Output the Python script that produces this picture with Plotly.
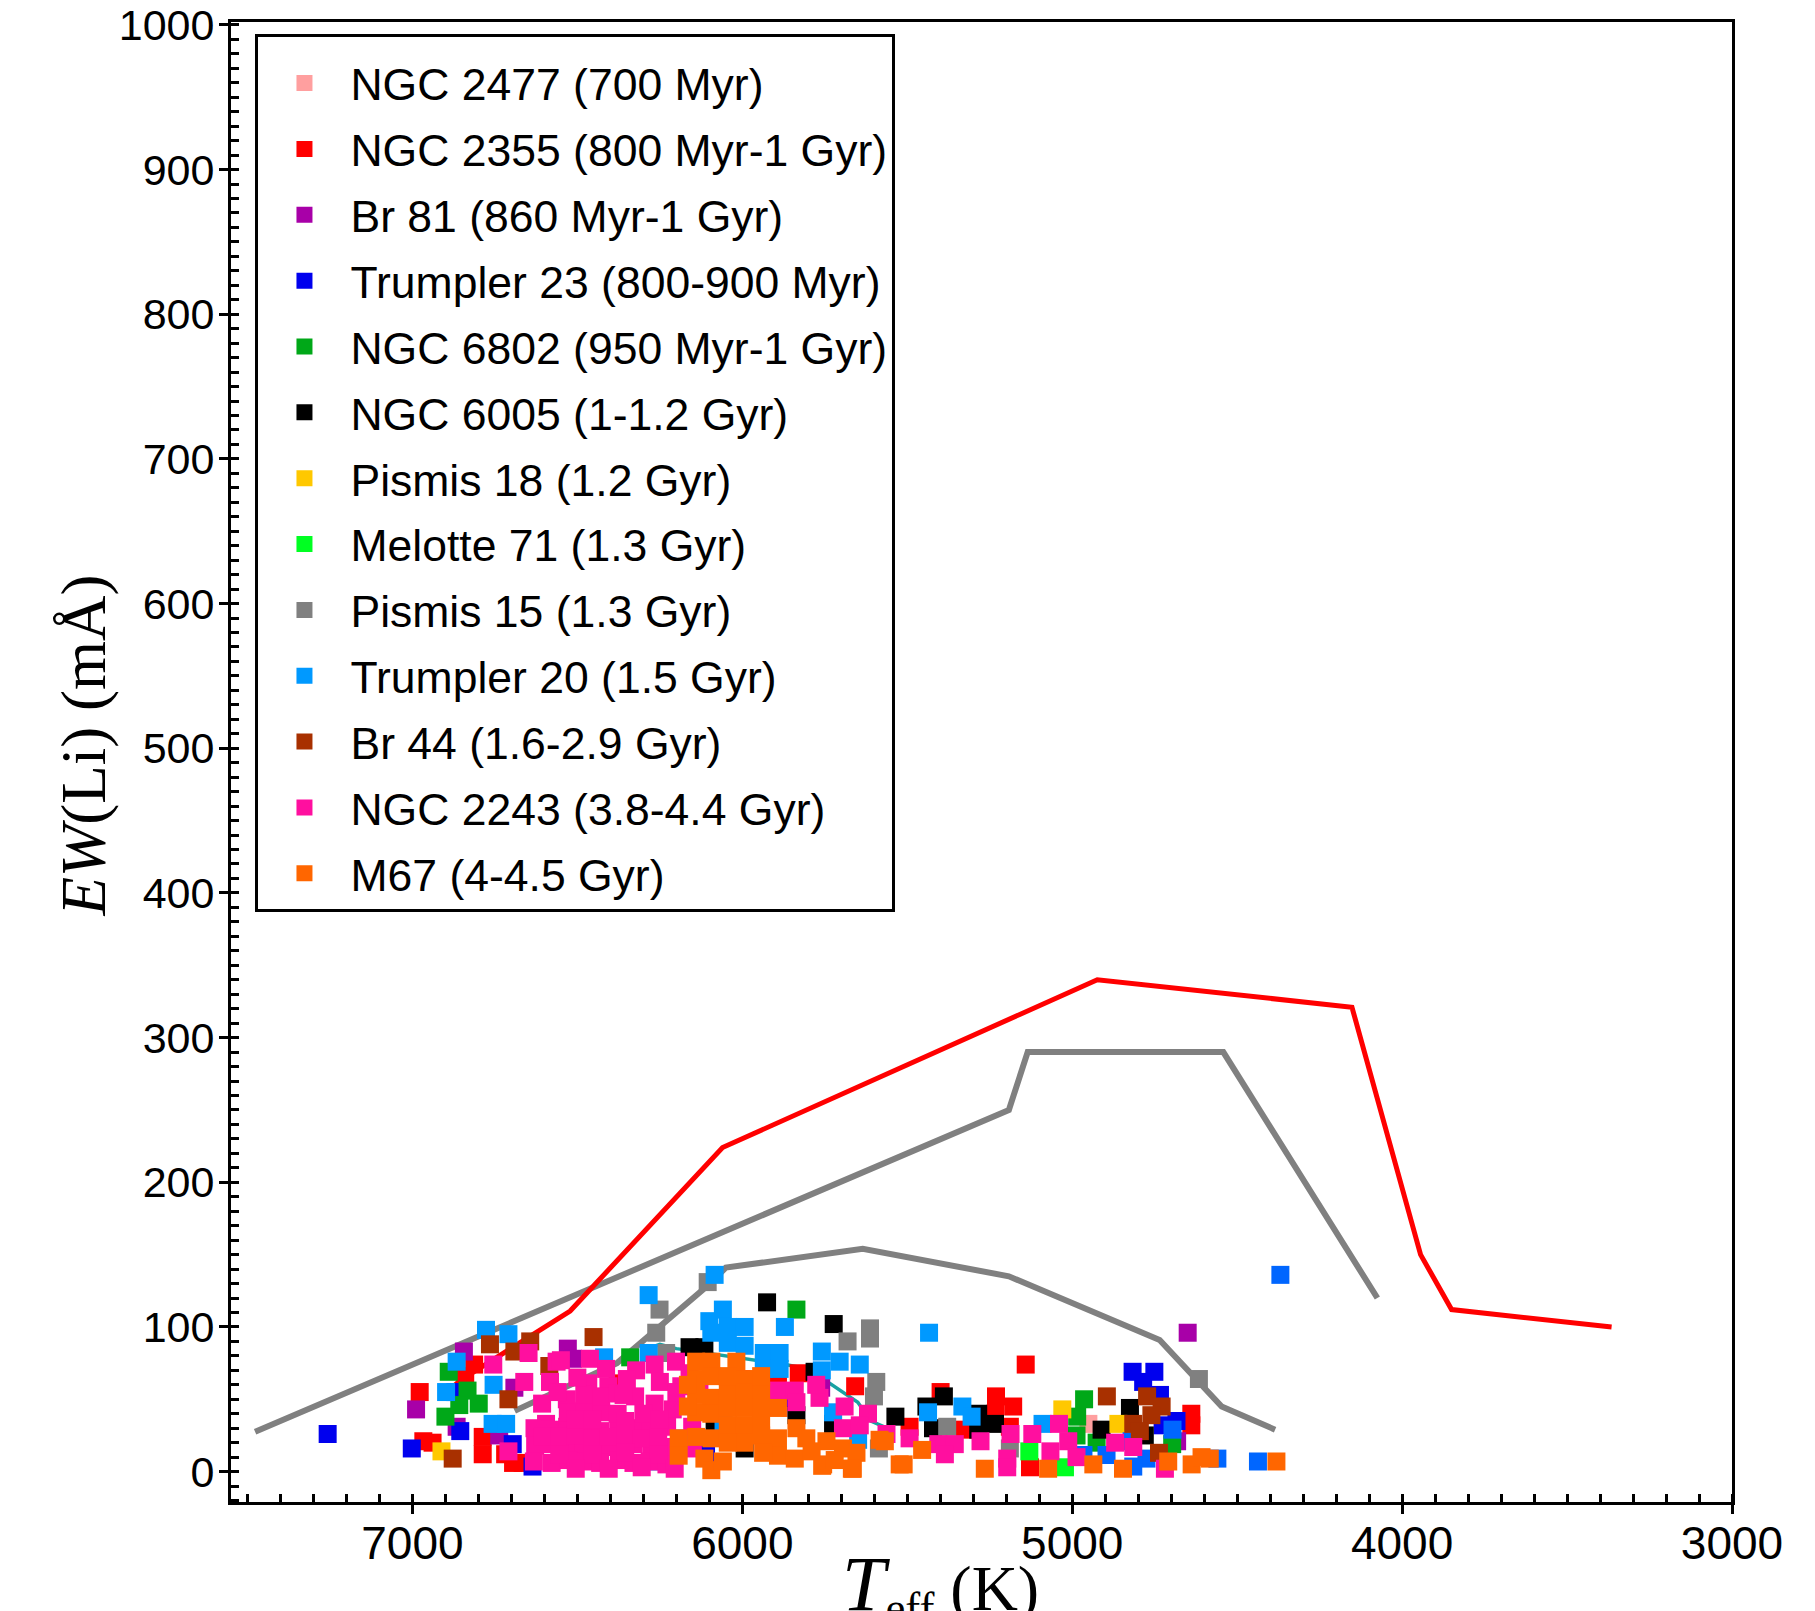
import plotly.graph_objects as go

# ------------------------------------------------------------------ data
# model curves (Teff in K, EW(Li) in mA)
model_grey_upper_teff = [7477, 5192, 5135, 4542, 4075]
model_grey_upper_ew = [27.5, 250, 290, 290, 120]

model_grey_lower_teff = [6690, 6380, 6103, 6050, 5635, 5192, 4735, 4613, 4547, 4385]
model_grey_lower_ew = [42, 75, 129, 141, 154, 135, 91, 62, 45, 29]

model_teal_teff = [6300, 6250, 6200, 5870, 5800, 5715, 5650, 5610, 5540]
model_teal_ew = [84, 88, 85, 74, 71, 58, 48, 35, 28]

model_red_teff = [6880, 6855, 6522, 6060, 4924, 4152, 3944, 3850, 3365]
model_red_ew = [58, 63, 111, 224, 340, 321, 150, 112, 100]

# clusters
ngc2477_teff = [5854, 4951]
ngc2477_ew = [44, 33]

ngc2355_teff = [6978, 6967, 6939, 6813, 6787, 6787, 6719, 6666, 6378, 5892, 5829, 5658,
                5493, 5399, 5231, 5179, 5234, 5189, 5141, 5128, 4639, 4639, 6840, 6695, 5325]
ngc2355_ew = [55, 21, 20, 74, 24, 12, 12, 6, 61, 68, 68, 59,
              31, 55, 52, 45, 40, 31, 74, 3, 40, 32, 66, 6, 29]

br81_teff = [6989, 6844, 6866, 6737, 6691, 6529, 6514, 5761, 4650, 4682]
br81_ew = [43, 83, 31, 25, 58, 85, 78, 58, 96, 21]

trumpler23_teff = [7257, 7002, 6855, 6696, 6636, 6110, 5887, 4817, 4751, 4785, 4734, 4726, 4684, 6870]
trumpler23_ew = [26, 16, 28, 19, 3.5, 12, 51, 69, 69, 62, 53, 32, 35, 55]

ngc6802_teff = [6890, 6900, 6833, 6799, 6858, 6340, 5836, 4964, 4985, 4987, 4926, 4697]
ngc6802_ew = [69, 38, 56, 47, 46, 79, 112, 50, 38, 25, 20, 19]

ngc6005_teff = [6160, 6115, 5925, 5723, 5781, 5836, 5725, 5536, 5993, 5389, 5442, 5285,
                5234, 5285, 5422, 4911, 4825, 4780, 6084, 6057]
ngc6005_ew = [86, 86, 117, 102, 69, 39, 33, 38, 16, 52, 45, 40,
              33, 29, 30, 29, 44, 25, 31, 27]

pismis18_teff = [6912, 5030, 4860]
pismis18_ew = [14, 43, 33]

melotte71_teff = [5130, 5022]
melotte71_ew = [14, 3]

pismis15_teff = [6251, 6261, 6105, 6231, 5681, 5613, 5613, 5594, 5601, 5586, 6188, 5379, 5189, 4616]
pismis15_ew = [112, 96, 131, 82, 90, 99, 92, 62, 52, 16, 23, 31, 16, 64]

trumpler20_teff = [6866, 6898, 6777, 6709, 6754, 6757, 6716, 6284, 6084, 6419, 6284, 6100,
                   6094, 6261, 6059, 5871, 6044, 5993, 6044, 5993, 5935, 5887, 5935, 5887,
                   5759, 5759, 5705, 5644, 5725, 5649, 6057, 5434, 5437, 5333, 5305, 5090]
trumpler20_ew = [76, 55, 98, 95, 60, 33, 33, 122, 136, 79, 82, 104,
                 96, 7, 112, 100, 100, 100, 89, 87, 82, 82, 71, 71,
                 83, 70, 76, 74, 41, 22, 35, 96, 41, 45, 38, 33]

br44_teff = [6878, 6765, 6709, 6691, 6643, 6451, 6585, 4895, 4773, 4729, 4815, 4760, 4795, 4737]
br44_ew = [9, 88, 50, 83, 90, 93, 73, 52, 52, 45, 33, 39, 28, 13]

ngc2243_teff = [6755, 6709, 6648, 6661, 6563, 6462, 6583, 6607, 6532, 6467, 6406, 6322,
                6266, 6201, 6185, 6325, 6266, 6211, 6595, 6152, 6150, 6413, 6550, 6160, 6130,
                6630, 6582, 6531, 6478, 6430, 6376, 6325, 6279, 6228,
                6628, 6580, 6533, 6481, 6427, 6380, 6329, 6275, 6224,
                6632, 6578, 6527, 6477, 6431, 6374, 6330, 6281, 6230,
                6529, 6479, 6428, 6378, 6300,
                6479, 6428, 6378, 6360,
                6605, 6555, 6505, 6455, 6405, 6355, 6305, 6255,
                6555, 6455, 6355, 6255, 6505, 6405, 6305, 6205,
                6505, 6455, 6355, 6250, 6500, 6350, 6250, 6560, 6200,
                6003, 5892, 5841, 5766, 5690, 5619, 5695, 5644, 5776, 5836, 5493, 5563,
                5406, 5356, 5386, 5278, 5187, 5197, 5197, 5121, 5040, 5066, 5012, 4987, 4870,
                4815, 4719]
ngc2243_ew = [74, 14, 82, 62, 76, 78, 62, 47, 50, 61, 59, 70,
              74, 76, 59, 52, 47, 43, 33, 31, 16, 71, 77, 68, 55,
              30, 29, 31, 30, 28, 31, 30, 29, 31,
              18, 19, 17, 19, 18, 17, 19, 18, 17,
              7, 6, 8, 7, 6, 8, 6, 7, 5,
              41, 42, 41, 40, 40,
              53, 52, 54, 53,
              24, 24, 25, 23, 24, 25, 23, 24,
              12, 12, 13, 12, 2, 2, 3, 2,
              36, 36, 35, 36, 65, 64, 62, 55, 55,
              64, 56, 56, 51, 45, 40, 30, 32, 60, 48, 23, 26,
              19, 19, 12, 21, 26, 9, 3, 26, 33, 14, 21, 10, 20,
              17, 2]

m67_teff = [6140, 6094, 6140, 6094, 6140, 6094, 6140, 6094, 6193, 6140, 6094, 6193, 6115, 6094,
            6018, 5993, 6044, 5993, 5943, 6044, 5993, 5943, 5892, 6044, 5993,
            5943, 5892, 5836, 5806, 5745, 5695, 5654, 5892, 5841, 5755, 5665, 5937, 6059,
            5523, 5584, 5568, 5758, 5668, 5511,
            6045, 5943, 6165, 6165, 5993, 6044, 5943, 5790, 5720,
            5265, 5073, 4936, 5455,
            4709, 4846, 4638, 4583, 4608, 4381]
m67_ew = [76, 76, 64, 66, 53, 51, 41, 40, 23, 24, 23, 11, 9, 1,
          76, 64, 55, 55, 55, 44, 44, 44, 44, 32, 32,
          25, 23, 30, 23, 21, 16, 13, 11, 9, 5, 2, 13, 7,
          5, 22, 21, 4, 2, 5,
          66, 66, 45, 60, 20, 20, 35, 14, 8,
          2, 2, 5, 15,
          7, 2, 5, 9, 10, 7]

# blue squares drawn in a shade not listed in the key
other_blue_teff = [4369, 4966, 4896, 4696, 4820, 4775, 4815, 4560, 4437]
other_blue_ew = [136, 11.5, 11.5, 29, 21, 9, 3.5, 9, 7]

cluster_names = ["NGC 2477 (700 Myr)", "NGC 2355 (800 Myr-1 Gyr)", "Br 81 (860 Myr-1 Gyr)",
                 "Trumpler 23 (800-900 Myr)", "NGC 6802 (950 Myr-1 Gyr)", "NGC 6005 (1-1.2 Gyr)",
                 "Pismis 18 (1.2 Gyr)", "Melotte 71 (1.3 Gyr)", "Pismis 15 (1.3 Gyr)",
                 "Trumpler 20 (1.5 Gyr)", "Br 44 (1.6-2.9 Gyr)", "NGC 2243 (3.8-4.4 Gyr)",
                 "M67 (4-4.5 Gyr)"]
cluster_colors = ["#ff9f9f", "#ff0000", "#a800a8", "#0000ee", "#00a818", "#000000",
                  "#ffc800", "#00ff22", "#808080", "#0099ff", "#a83000", "#ff0f9f", "#ff6600"]
cluster_teff = [ngc2477_teff, ngc2355_teff, br81_teff, trumpler23_teff, ngc6802_teff,
                ngc6005_teff, pismis18_teff, melotte71_teff, pismis15_teff, trumpler20_teff,
                br44_teff, ngc2243_teff, m67_teff]
cluster_ew = [ngc2477_ew, ngc2355_ew, br81_ew, trumpler23_ew, ngc6802_ew,
              ngc6005_ew, pismis18_ew, melotte71_ew, pismis15_ew, trumpler20_ew,
              br44_ew, ngc2243_ew, m67_ew]

x_tick_values = [7000, 6000, 5000, 4000, 3000]
x_tick_labels = ["7000", "6000", "5000", "4000", "3000"]
y_tick_values = [0, 100, 200, 300, 400, 500, 600, 700, 800, 900, 1000]
y_tick_labels = ["0", "100", "200", "300", "400", "500", "600", "700", "800", "900", "1000"]

# ------------------------------------------------------------------ figure
SANS = "Liberation Sans, Arial, sans-serif"
SERIF = "Liberation Serif, Times New Roman, serif"

fig = go.Figure()

for tx, ty, col, w in [(model_grey_upper_teff, model_grey_upper_ew, "#808080", 6),
                       (model_grey_lower_teff, model_grey_lower_ew, "#808080", 6),
                       (model_teal_teff, model_teal_ew, "#17a2a2", 3.5),
                       (model_red_teff, model_red_ew, "#ff0000", 5)]:
    fig.add_trace(go.Scatter(x=tx, y=ty, mode="lines", showlegend=False, hoverinfo="skip",
                             line=dict(color=col, width=w)))

for i, (nm, col, tx, ty) in enumerate(zip(cluster_names, cluster_colors, cluster_teff, cluster_ew)):
    fig.add_trace(go.Scatter(x=tx, y=ty, mode="markers", name=nm, legendgroup="g%d" % i,
                             marker=dict(symbol="square", size=18, color=col, line=dict(width=0))))
    if nm.startswith("Trumpler 20"):
        fig.add_trace(go.Scatter(x=other_blue_teff, y=other_blue_ew, mode="markers",
                                 showlegend=False, name="other",
                                 marker=dict(symbol="square", size=18, color="#0066ff",
                                             line=dict(width=0))))

axis_common = dict(showgrid=False, zeroline=False, showline=True, linecolor="black",
                   linewidth=3, mirror=True, ticks="outside", ticklen=9, tickwidth=2.5,
                   tickcolor="black", automargin=False, ticklabeloverflow="allow")

fig.update_layout(
    width=1815, height=1611,
    margin=dict(l=223, r=91, t=14, b=117, autoexpand=False),
    paper_bgcolor="white", plot_bgcolor="white",
    showlegend=True,
    legend=dict(x=0.0163, y=0.9917, xanchor="left", yanchor="top",
                bordercolor="black", borderwidth=3, bgcolor="white",
                font=dict(family=SANS, size=44.5, color="black"),
                title=dict(text=" ", font=dict(size=8)),
                itemwidth=82, tracegroupgap=5, traceorder="grouped"),
    xaxis=dict(range=[7550, 3000], tickmode="array", tickvals=x_tick_values,
               ticktext=x_tick_labels, tickfont=dict(family=SANS, size=46, color="black"),
               ticklabelstandoff=-10,
               minor=dict(tickmode="linear", tick0=3000, dtick=100, ticks="inside",
                          ticklen=8, tickwidth=2.5, tickcolor="black", showgrid=False),
               **axis_common),
    yaxis=dict(range=[-21, 1002], tickmode="array", tickvals=y_tick_values,
               ticktext=y_tick_labels, tickfont=dict(family=SANS, size=43, color="black"),
               ticklabelstandoff=-4,
               minor=dict(tickmode="linear", tick0=0, dtick=10, ticks="inside",
                          ticklen=8, tickwidth=2.5, tickcolor="black", showgrid=False),
               **axis_common),
    annotations=[
        dict(text="<i>EW</i>(Li) (mÅ)", xref="paper", yref="paper", x=-0.098, y=0.511,
             xanchor="center", yanchor="middle", textangle=-90, showarrow=False,
             font=dict(family=SERIF, size=63, color="black")),
        dict(text="<i><span style=\"font-size:78px\">T</span></i><sub>eff</sub> (K)",
             xref="paper", yref="paper", x=0.473, y=-0.024,
             xanchor="center", yanchor="top", showarrow=False,
             font=dict(family=SERIF, size=64, color="black")),
    ],
)

fig.write_html("out.html")
